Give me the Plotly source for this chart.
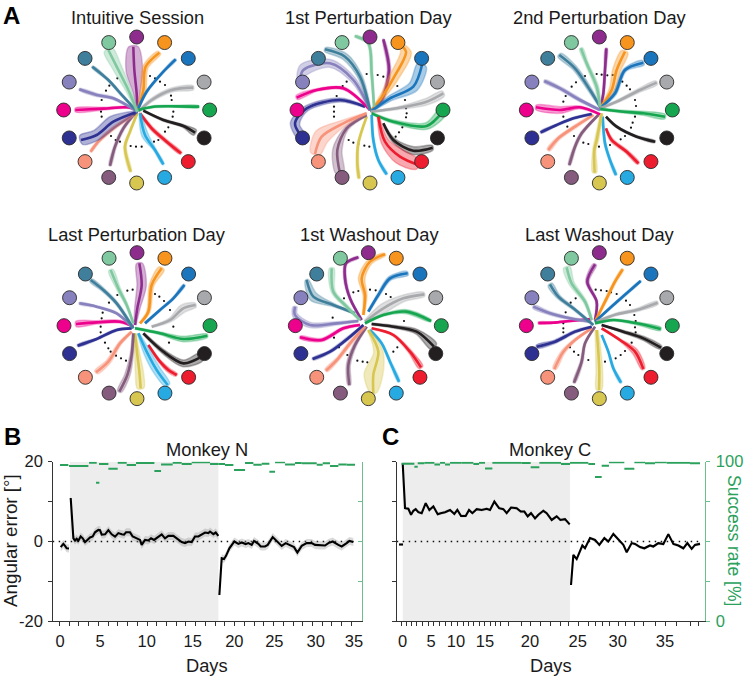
import numpy as np
import plotly.graph_objects as go

W, H = 745, 680

# ---------- Panel A data (reach positions, read in picture units; third value = spread half-width) ----------
colors = ["#8E2C8E", "#F7941D", "#1B75BC", "#A7A9AC", "#16A650", "#231F20", "#ED1C2E", "#27AAE1",
          "#D7C64F", "#855C7E", "#F7937A", "#2E3192", "#EC008C", "#8781BD", "#3F7F9B", "#80C9A0"]
target_angles = [90, 67.5, 45, 22.5, 0, -22.5, -45, -67.5, -90, -112.5, -135, -157.5, 180, 157.5, 135, 112.5]
target_radius = 219

intuitive_paths = [
 [(412,335,2),(410,280,10),(403,210,25),(400,140,14)],
 [(415,325,3),(430,270,8),(437,200,8),(478,158,6)],
 [(415,325,2),(440,275,3),(490,215,3),(527,178,3)],
 [(415,335,3),(455,300,5),(515,270,6),(580,263,6)],
 [(415,330,2),(460,320,3),(530,319,3),(597,320,3)],
 [(430,332,2),(490,360,3),(550,378,4),(585,398,9)],
 [(420,340,3),(455,385,5),(500,425,5),(543,460,4)],
 [(420,340,3),(435,405,10),(465,450,4),(490,493,3)],
 [(412,340,2),(390,395,3),(375,440,4),(392,515,3)],
 [(405,340,3),(370,385,4),(345,440,4),(330,497,3)],
 [(400,345,3),(340,385,5),(295,425,4),(272,455,3)],
 [(412,335,3),(340,365,18),(290,405,16),(243,420,14)],
 [(412,330,2),(380,322,3),(310,326,4),(226,330,6)],
 [(412,335,2),(340,295,4),(290,285,5),(238,268,3)],
 [(412,335,2),(370,290,3),(325,240,3),(277,200,3)],
 [(412,335,3),(385,270,8),(350,200,14),(325,150,14)],
]
first_pert_paths = [
 [(362,335,3),(395,300,5),(417,210,5),(400,118,2)],
 [(362,335,3),(400,285,8),(430,235,14),(468,155,16),(445,130,5)],
 [(362,335,3),(420,295,8),(490,260,16),(516,195,14)],
 [(362,335,3),(440,325,4),(530,305,10),(580,280,8)],
 [(365,340,3),(430,365,5),(530,378,10),(578,335,12)],
 [(400,370,2),(430,420,6),(490,452,12),(548,443,7)],
 [(385,350,3),(405,425,12),(450,470,22),(505,495,14)],
 [(365,345,2),(370,420,3),(385,480,3),(410,523,3)],
 [(350,350,2),(325,430,3),(322,490,4),(327,535,3)],
 [(350,345,3),(290,385,6),(262,450,14),(270,520,12)],
 [(350,340,3),(280,370,10),(215,410,24),(195,462,14)],
 [(345,320,3),(270,300,6),(170,325,8),(135,370,14),(155,410,12)],
 [(360,330,2),(280,265,4),(200,270,4),(140,293,6)],
 [(360,330,3),(310,240,8),(240,190,12),(160,210,18),(150,240,8)],
 [(360,330,3),(330,230,7),(285,170,10),(225,148,6)],
 [(372,320,2),(365,220,4),(355,130,4),(315,108,3)],
]
second_pert_paths = [
 [(300,330,2),(310,280,3),(315,210,3),(319,145,3)],
 [(300,325,3),(335,270,8),(350,210,12),(375,155,10)],
 [(300,325,2),(345,280,5),(375,210,5),(430,188,7)],
 [(300,325,3),(350,305,4),(420,270,6),(470,248,6)],
 [(300,327,3),(370,335,4),(430,340,6),(495,350,7)],
 [(318,350,2),(350,380,3),(410,410,3),(465,425,3)],
 [(318,385,2),(335,420,5),(380,455,5),(415,490,4)],
 [(308,350,2),(315,430,3),(330,480,3),(348,525,3)],
 [(305,340,4),(290,420,6),(283,450,5),(284,518,6)],
 [(295,345,2),(245,400,4),(225,440,4),(208,495,3)],
 [(280,345,3),(225,380,5),(175,415,5),(145,450,5)],
 [(275,342,2),(220,355,3),(170,375,3),(122,397,3)],
 [(300,343,2),(240,322,4),(180,330,10),(108,322,7)],
 [(300,330,3),(240,300,5),(180,265,5),(133,243,4)],
 [(300,320,3),(270,270,6),(225,205,7),(178,165,7)],
 [(300,320,3),(290,260,6),(260,190,5),(243,145,5)],
]
last_pert_paths = [
 [(345,330,3),(352,280,8),(365,210,14),(358,145,9)],
 [(360,325,3),(385,290,5),(395,210,7),(425,160,9)],
 [(375,325,3),(420,285,3),(460,250,3),(493,210,3)],
 [(395,335,3),(450,315,6),(490,280,12),(527,270,6)],
 [(345,340,3),(420,355,4),(490,372,8),(562,362,5)],
 [(370,355,3),(430,410,6),(490,445,10),(545,425,12)],
 [(385,390,2),(420,440,4),(445,465,6),(470,480,4)],
 [(355,355,3),(380,410,10),(410,465,12),(443,510,8)],
 [(345,355,3),(352,420,8),(358,470,12),(362,520,10)],
 [(340,355,3),(335,420,5),(322,480,8),(298,530,6)],
 [(335,350,3),(300,385,5),(265,440,7),(228,472,6)],
 [(335,340,2),(290,345,3),(230,372,3),(173,392,3)],
 [(340,335,2),(300,320,4),(230,322,5),(168,327,8)],
 [(335,335,2),(290,295,3),(230,275,3),(178,265,3)],
 [(340,340,3),(290,265,4),(250,225,5),(212,195,5)],
 [(340,325,2),(320,270,4),(295,220,6),(272,165,7)],
]
first_wash_paths = [
 [(335,315,2),(300,250,3),(285,190,4),(288,145,4),(325,127,3)],
 [(340,300,3),(345,240,6),(335,190,10),(360,140,8),(405,118,4)],
 [(355,290,3),(385,240,4),(420,190,6),(473,175,6)],
 [(345,320,4),(400,280,14),(460,250,10),(523,238,6)],
 [(345,325,3),(400,300,3),(470,290,6),(543,318,3)],
 [(365,327,3),(430,335,4),(500,350,7),(552,395,12)],
 [(365,340,2),(430,360,3),(480,410,5),(513,457,7)],
 [(360,345,2),(395,385,3),(420,440,3),(447,500,3)],
 [(355,345,3),(385,410,14),(370,480,28),(370,535,8)],
 [(350,335,3),(315,390,5),(295,450,6),(298,510,4)],
 [(345,335,3),(300,385,5),(265,430,5),(228,467,5)],
 [(340,330,2),(300,365,4),(240,410,4),(188,432,3)],
 [(330,330,2),(280,340,4),(215,375,5),(150,367,4)],
 [(325,318,3),(260,325,5),(180,330,8),(135,300,8),(135,275,6)],
 [(315,295,3),(250,270,5),(190,245,14),(170,195,5)],
 [(330,315,3),(290,275,5),(250,230,6),(245,160,7)],
]
last_wash_paths = [
 [(285,315,2),(290,260,3),(262,200,5),(285,148,5)],
 [(285,320,2),(320,250,4),(345,200,4),(368,163,3)],
 [(285,320,2),(340,270,3),(380,235,3),(422,198,2)],
 [(290,320,3),(350,298,4),(410,285,5),(473,263,5)],
 [(285,325,3),(340,315,3),(410,325,4),(482,342,5)],
 [(305,330,2),(370,350,4),(430,370,6),(483,398,5)],
 [(305,340,2),(360,375,3),(405,410,9),(430,462,5)],
 [(305,360,2),(325,410,2),(340,460,3),(363,503,3)],
 [(290,345,5),(295,410,8),(298,470,10),(297,525,8)],
 [(285,335,2),(255,385,3),(245,440,4),(222,503,3)],
 [(275,340,2),(225,375,4),(190,410,6),(163,462,5)],
 [(275,335,2),(225,350,4),(165,380,5),(110,395,5)],
 [(275,312,2),(210,318,2),(160,323,2),(115,324,3)],
 [(270,320,3),(210,310,4),(150,295,5),(100,275,5)],
 [(280,330,3),(220,280,4),(175,245,6),(150,208,7)],
 [(275,315,3),(255,260,5),(215,205,8),(200,157,10)],
]

intuitive_dots = [(352,235),(450,228),(465,235),(480,245),(495,255),(513,287),(515,300),(520,335),(518,350),(505,382),(495,395),(475,420),(462,425),(425,440),(408,440),(392,438),(360,425),(347,420),(333,408),(305,350),(303,335),(305,300),(318,272),(328,257)]
first_pert_dots = [(350,222),(383,225),(400,230),(442,258),(465,300),(468,325),(470,340),(468,352),(457,382),(447,397),(437,410),(358,440),(343,437),(325,432),(310,428),(296,420),(252,350),(252,335),(252,320),(260,288),(278,258),(290,245)]
second_pert_dots = [(290,222),(305,224),(322,226),(338,225),(367,245),(380,257),(390,268),(405,300),(408,318),(405,350),(398,368),(393,383),(375,408),(362,418),(330,435),(297,440),(265,432),(250,428),(222,408),(202,380),(190,350),(190,305),(197,288),(215,260),(228,247),(255,228)]
last_pert_dots = [(322,227),(338,224),(292,240),(405,237),(418,245),(432,258),(450,285),(460,335),(447,383),(318,437),(303,430),(288,422),(272,410),(265,400),(255,383),(242,352),(242,335),(245,310),(248,293),(267,263)]
first_wash_dots = [(310,232),(325,228),(360,224),(377,226),(408,237),(422,246),(462,318),(442,397),(430,410),(322,437),(338,440),(352,442),(292,420),(267,397),(252,368),(248,308),(282,250)]
last_wash_dots = [(287,224),(303,226),(320,228),(333,232),(350,237),(378,257),(390,270),(403,300),(407,318),(405,337),(407,352),(395,383),(375,408),(362,420),(347,430),(315,440),(265,435),(235,420),(222,410),(210,397),(190,352),(190,340),(190,325),(197,292),(212,263),(227,250)]

panel_titles = ["Intuitive Session", "1st Perturbation Day", "2nd Perturbation Day",
                "Last Perturbation Day", "1st Washout Day", "Last Washout Day"]
panel_paths = [intuitive_paths, first_pert_paths, second_pert_paths, last_pert_paths, first_wash_paths, last_wash_paths]
panel_dots = [intuitive_dots, first_pert_dots, second_pert_dots, last_pert_dots, first_wash_dots, last_wash_dots]
# crop origin of each panel's reading frame, target-ring centre in that frame
panel_crop = [(0, 0), (250, 0), (500, 0), (20, 215), (250, 215), (500, 215)]
panel_ring = [(410, 330), (360, 330), (298, 330), (351, 332), (355, 332), (298, 332)]
title_x = [137.7, 369, 600, 137.3, 369, 600]
title_y = [17, 17, 17, 234, 234, 234]

# ---------- Panels B and C data ----------
n_seg1_x = [182, 186, 190, 195, 200, 207]
n_seg1_y = [-1.4, -1.1, -0.6, -1.1, -1.7, -1.75]
n_seg2_x = [212,220,225,230,235,242,248,255,262,270,278,285,295,300,305,315,325,335,345,355,365,372,378,390,398,408,420,425,435,445,453,462,472,485,495,505,520,535,545,555,565,575,585,595,605,615,625,630,640,647,655]
n_seg2_y = [10.9,.8,.25,.7,.2,1.25,.8,-.15,.4,1,1.25,2.3,2.9,2.85,1.7,1.8,2.85,1.8,1.2,2.1,1.8,1.7,2.3,2.3,1.25,.8,.4,-.85,.4,.25,.8,.4,1,1.8,.8,1.4,1.4,.4,-.15,-.4,0,-.15,1.25,1.25,1.7,2.25,2.1,2.5,1.85,2.25,1.4]
n_seg3_x = [658,665,672,678,688,695,703,715,725,737,745,755,762,775,782,795,803,818,830,845,857,870,882,892,905,920,935,945,960,975,985,998,1015,1025,1040,1048,1060]
n_seg3_y = [-13.4,-4.2,-4.4,-3.6,-1.7,-.85,0,-.6,-.25,-.65,-.4,-.85,.15,-.6,-1.25,-1.25,-.85,1.1,.15,-1.1,-.4,-.85,-1.4,-2.75,-1.1,-.4,-.4,-.85,-1,-1,-.4,0,-.85,-1.25,-.4,.15,-.15]
n_spread = 1.0
n_rate_start = [180,207,267,297,325,353,380,408,463,483,518,545,575,630,655,675,702,735,760,785,808,825,855,885,905,950,968,990,1015,1040,288]
n_rate_end   = [205,265,290,325,353,380,408,463,483,518,545,575,630,655,675,700,735,760,785,808,825,855,885,905,950,968,990,1015,1040,1065,298]
n_rate       = [97.9,97.3,99.4,98.5,95.6,99.4,97.9,99.2,94.2,98.3,99.4,98.5,99.6,98.5,98.5,97.9,94.8,99.2,98.1,98.7,93.7,99.6,98.3,99.2,99,98.1,99,97.3,98.3,98.1,86.8]
n_tick_pos = [178,207,236,265,295,324,353,382,411,441,470,499,528,557,587,616,645,674,703,733,762,791,820,849,879,908,937,966,995,1025,1054]
n_label_pos = [180, 300, 440, 578, 703, 823, 947, 1062]
n_shade = (210, 655)

c_seg1_x = [72, 84]
c_seg1_y = [-0.75, -0.75]
c_seg2_x = [83,90,100,108,115,122,130,140,152,163,175,188,197,210,225,238,247,258,272,282,292,305,320,335,345,358,372,385,395,408,425,437,448,458,468,480,490,505,515,530,545,556,570,584]
c_seg2_y = [19.6,8.35,8.2,6.7,7.7,8.1,7.35,7.1,9.6,7.9,8.8,6.85,7.1,7.35,7.9,6.9,7.9,6.4,6.4,7.9,7.1,8.1,7.9,8.2,7.9,10,8.35,8.1,7.1,8.5,8.35,7.5,7.5,6.3,7.1,5.8,6.7,7.7,7.1,5.4,6.3,5.4,5.6,4.3]
c_seg3_x = [588,595,605,622,630,645,660,673,688,700,715,730,745,755,770,780,795,808,825,835,850,865,880,895,910,925,937,950,960,975]
c_seg3_y = [-10.9,-3.35,-4.4,-1,-1.7,.85,.4,-.85,.85,0,1.9,.4,-.85,-2.7,-.4,-.6,-1.4,-1.7,-1,-1.25,-.4,-.65,1.85,-.6,-1,-1.7,-.4,-1.85,-.85,-.6]
c_spread = 0.4
c_rate_start = [80,118,128,148,178,195,210,225,260,295,312,330,352,440,467,493,558,585,640,660,680,702,748,778,810,840,875,945]
c_rate_end   = [118,128,148,178,195,210,225,260,295,312,330,352,440,467,493,558,585,640,660,680,702,748,778,810,840,875,945,975]
c_rate       = [98.7,96.9,99,99.4,98.3,99.4,98.3,99.4,99.4,98.5,99.4,95.8,99.4,99.2,96.5,99.4,98.5,99.4,98.5,90.4,97.5,99.6,95.6,99.6,99,99.6,99.4,99]
c_tick_pos = [80,95,110,125,142,160,175,192,210,228,246,264,279,294,312,327,345,360,375,399,439,466,495,525,555,579,609,639,660,681,702,729,750,777,804,840,870,903,945,969]
c_label_pos = [83, 168, 243, 330, 465, 608, 728, 870]
c_shade = (83, 585)

day_labels = ["0", "5", "10", "15", "20", "25", "30", "35"]
y_ticks = [-20, -10, 0, 10, 20]
y_labels = ["-20", "", "0", "", "20"]
rate_ticks = [0, 25, 50, 75, 100]
rate_labels = ["0", "", "", "", "100"]

GREEN = "#2BA15C"
AXGREEN = "#6CBF8C"
DARK = "#333333"
FONT = "Liberation Sans, Arial, sans-serif"
TXT = "#1a1a1a"


def rgba(hex_color, a):
    h = hex_color.lstrip("#")
    return f"rgba({int(h[:2],16)},{int(h[2:4],16)},{int(h[4:],16)},{a})"


fig = go.Figure()
layout = dict(
    width=W, height=H, autosize=False, margin=dict(l=0, r=0, t=0, b=0, autoexpand=False),
    paper_bgcolor="white", plot_bgcolor="rgba(0,0,0,0)", showlegend=False,
    font=dict(family=FONT, color=TXT, size=16), shapes=[], annotations=[],
)


def note(text, x, y, size=18.3, color=TXT, bold=False, angle=0):
    layout["annotations"].append(dict(
        text=f"<b>{text}</b>" if bold else text, x=x / W, y=1 - y / H, xref="paper", yref="paper",
        showarrow=False, xanchor="center", yanchor="middle", textangle=angle,
        font=dict(size=size, color=color, family=FONT)))


# ---------- Panel A ----------
for i in range(6):
    n = i + 1
    xa, ya = f"x{n}", f"y{n}"
    cx0, cy0 = panel_crop[i]
    ox, oy = panel_ring[i]
    px, py = cx0 + ox / 3, cy0 + oy / 3
    half = 85
    layout[f"xaxis{n}"] = dict(domain=[(px - half) / W, (px + half) / W], range=[ox - 3 * half, ox + 3 * half],
                               visible=False, fixedrange=True)
    layout[f"yaxis{n}"] = dict(domain=[1 - (py + half) / H, 1 - (py - half) / H], range=[oy + 3 * half, oy - 3 * half],
                               visible=False, fixedrange=True)
    dots = np.array(panel_dots[i], float)
    fig.add_trace(go.Scatter(x=dots[:, 0], y=dots[:, 1], mode="markers", xaxis=xa, yaxis=ya, hoverinfo="skip",
                             marker=dict(size=2.2, color="#111111")))
    for col, path in zip(colors, panel_paths[i]):
        p = np.array(path, float)
        dx, dy = np.gradient(p[:, 0]), np.gradient(p[:, 1])
        norm = np.hypot(dx, dy)
        nx, ny = -dy / norm, dx / norm
        upx, upy = p[:, 0] + nx * p[:, 2], p[:, 1] + ny * p[:, 2]
        dnx, dny = p[:, 0] - nx * p[:, 2], p[:, 1] - ny * p[:, 2]
        fig.add_trace(go.Scatter(x=np.r_[upx, dnx[::-1]], y=np.r_[upy, dny[::-1]], mode="lines", xaxis=xa, yaxis=ya,
                                 fill="toself", fillcolor=rgba(col, 0.38), hoverinfo="skip",
                                 line=dict(width=1.5, color=rgba(col, 0.3), shape="spline", smoothing=0.9)))
        fig.add_trace(go.Scatter(x=p[:, 0], y=p[:, 1], mode="lines", xaxis=xa, yaxis=ya, hoverinfo="skip",
                                 line=dict(width=2.6, color=col, shape="spline", smoothing=0.9)))
    ang = np.deg2rad(target_angles)
    fig.add_trace(go.Scatter(x=ox + target_radius * np.cos(ang), y=oy - target_radius * np.sin(ang), mode="markers",
                             xaxis=xa, yaxis=ya, hoverinfo="skip",
                             marker=dict(size=14, color=colors, line=dict(width=0.9, color="#2a2a2a"))))
    note(panel_titles[i], title_x[i], title_y[i])


# ---------- Panels B and C ----------
def add_behaviour(xn, yn, yr, left, right, xr, segs, spread, rs, re, rv, ticks, label_pos, shade):
    top, bottom = 461.7, 621.3
    xa, ya, ya2 = f"x{xn}", f"y{yn}", f"y{yr}"
    layout[f"xaxis{xn}"] = dict(
        domain=[left / W, right / W], range=xr, anchor=ya, fixedrange=True, showgrid=False, zeroline=False,
        showline=True, linecolor=DARK, linewidth=1, ticks="outside", ticklen=0, tickwidth=1, tickcolor=DARK,
        tickmode="array", tickvals=label_pos, ticktext=day_labels, tickfont=dict(size=16.5, color=TXT, family=FONT),
        minor=dict(tickmode="array", tickvals=ticks, ticks="outside", ticklen=3.5, tickwidth=1, tickcolor=DARK, showgrid=False),
        ticklabelstandoff=5)
    layout[f"yaxis{yn}"] = dict(
        domain=[1 - bottom / H, 1 - top / H], range=[-20, 20], anchor=xa, fixedrange=True, showgrid=False, zeroline=False,
        showline=True, linecolor=DARK, linewidth=1, ticks="outside", ticklen=3.5, tickwidth=1, tickcolor=DARK,
        tickmode="array", tickvals=y_ticks, ticktext=y_labels if xn == 7 else [""] * 5,
        tickfont=dict(size=16.5, color=TXT, family=FONT), ticklabelstandoff=2)
    layout[f"yaxis{yr}"] = dict(
        domain=[1 - bottom / H, 1 - top / H], range=[0, 100], anchor=xa, overlaying=ya, side="right", fixedrange=True,
        showgrid=False, zeroline=False, showline=True, linecolor=AXGREEN, linewidth=1,
        ticks="inside" if xn == 7 else "outside", ticklen=3.5, tickwidth=1, tickcolor=AXGREEN,
        tickmode="array", tickvals=rate_ticks, ticktext=[""] * 5 if xn == 7 else rate_labels,
        tickfont=dict(size=16.5, color=GREEN, family=FONT), ticklabelstandoff=3)
    layout["shapes"].append(dict(type="rect", xref=xa, yref=ya, x0=shade[0], x1=shade[1], y0=-20, y1=20,
                                 fillcolor="#EDEDED", line=dict(width=0), layer="below"))
    fig.add_trace(go.Scatter(x=[xr[0], segs[-1][0][-1]], y=[0, 0], mode="lines", xaxis=xa, yaxis=ya, hoverinfo="skip",
                             line=dict(color="#111111", width=1.5, dash="1.5px 4.5px")))
    for sx, sy in segs:
        sx, sy = np.array(sx, float), np.array(sy, float)
        fig.add_trace(go.Scatter(x=np.r_[sx, sx[::-1]], y=np.r_[sy + spread, (sy - spread)[::-1]], mode="lines",
                                 xaxis=xa, yaxis=ya, fill="toself", fillcolor="rgba(150,150,150,0.35)",
                                 line=dict(width=0), hoverinfo="skip"))
        fig.add_trace(go.Scatter(x=sx, y=sy, mode="lines", xaxis=xa, yaxis=ya, hoverinfo="skip",
                                 line=dict(color="black", width=2.1)))
    gx, gy = [], []
    for a, b, v in zip(rs, re, rv):
        gx += [a, b, None]
        gy += [v, v, None]
    fig.add_trace(go.Scatter(x=gx, y=gy, mode="lines", xaxis=xa, yaxis=ya2, hoverinfo="skip",
                             line=dict(color=GREEN, width=2), connectgaps=False))


add_behaviour(7, 7, 8, 52.7, 361.7, [158, 1085],
              [(n_seg1_x, n_seg1_y), (n_seg2_x, n_seg2_y), (n_seg3_x, n_seg3_y)], n_spread,
              n_rate_start, n_rate_end, n_rate, n_tick_pos, n_label_pos, n_shade)
add_behaviour(9, 9, 10, 396.7, 705, [65, 990],
              [(c_seg1_x, c_seg1_y), (c_seg2_x, c_seg2_y), (c_seg3_x, c_seg3_y)], c_spread,
              c_rate_start, c_rate_end, c_rate, c_tick_pos, c_label_pos, c_shade)

note("Monkey N", 206.7, 449)
note("Monkey C", 550, 449)
note("Days", 207, 665)
note("Days", 551, 665)
note("Angular error [°]", 10, 541, size=18.8, angle=-90)
note("Success rate [%]", 734, 540, color=GREEN, size=17.5, angle=90)
note("A", 11, 15, size=24, color="black", bold=True)
note("B", 12, 436, size=24, color="black", bold=True)
note("C", 390, 436, size=24, color="black", bold=True)

fig.update_layout(**layout)
fig.write_html("out.html", config=dict(displayModeBar=False),
               post_script="document.body.style.margin='0';document.documentElement.style.overflow='hidden';")
